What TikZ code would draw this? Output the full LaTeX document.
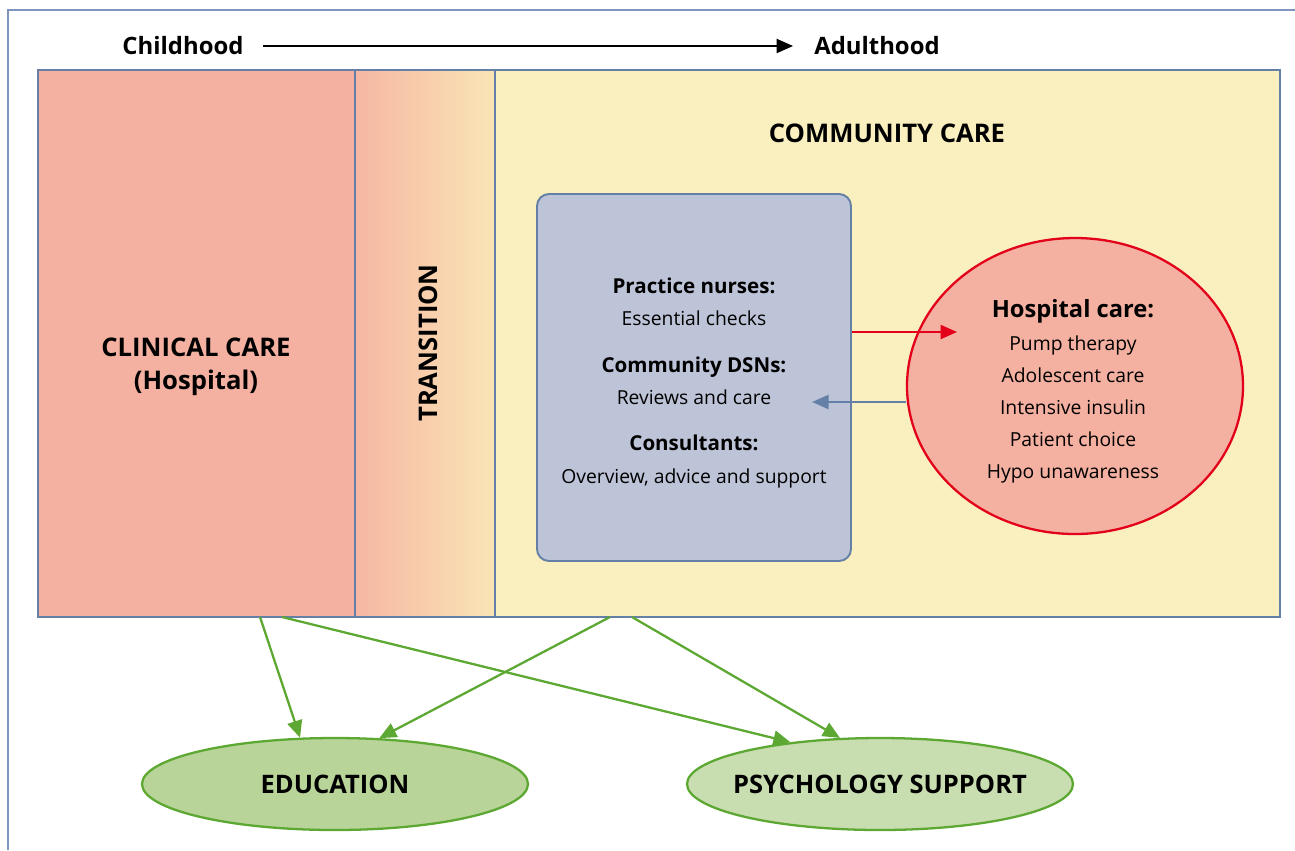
\documentclass[tikz,border=0pt]{standalone}
\usepackage{fontspec}
\setmainfont{Open Sans}
\usepackage{tikz}
\usetikzlibrary{shapes.geometric, arrows.meta, positioning, calc}

\definecolor{frameblue}{HTML}{7F95BF}
\definecolor{edgeblue}{HTML}{6580A6}
\definecolor{clinicalpink}{HTML}{F4B0A0}
\definecolor{transpink}{HTML}{F6B7A2}
\definecolor{transyellow}{HTML}{F9E5B6}
\definecolor{communityyellow}{HTML}{FAF0BF}
\definecolor{teamgrey}{HTML}{BEC4D8}
\definecolor{hospred}{HTML}{E2001A}
\definecolor{linkgreen}{HTML}{5DA832}
\definecolor{edugreen}{HTML}{B8D498}
\definecolor{psygreen}{HTML}{C8DDB0}

\begin{document}
\begin{tikzpicture}[
    x=0.02cm, y=-0.02cm,
    region/.style={draw=edgeblue, line width=1.1pt, inner sep=0pt},
    heading/.style={font=\bfseries\fontsize{14.6}{18.7}\selectfont},
    item/.style={font=\fontsize{11}{13}\selectfont, text height=1.6ex, text depth=.3ex},
    itembold/.style={font=\bfseries\fontsize{11.7}{14}\selectfont, text height=1.6ex, text depth=.3ex},
    outcome/.style={ellipse, draw=linkgreen, line width=1.3pt, minimum width=386*0.02cm, minimum height=92*0.02cm},
    outcometxt/.style={font=\bfseries\fontsize{14.5}{17}\selectfont},
    arrow/.style={-{Triangle[length=3.3mm, width=2.8mm]}, line width=1pt},
    greenarrow/.style={arrow, draw=linkgreen, -{Triangle[length=3.4mm, width=3mm]}, color=linkgreen, line width=1.3pt}
]
\useasboundingbox (0,0) rectangle (1295,850);

% Page frame
\draw[frameblue, line width=0.8pt] (8,850) -- (8,10) -- (1295,10);

% Timeline
\node[font=\bfseries\fontsize{13.6}{16}\selectfont] (child) at (183,46) {Childhood};
\node[font=\bfseries\fontsize{13.6}{16}\selectfont] (adult) at (877,46) {Adulthood};
\draw[arrow, line width=1.2pt] (child.east) ++(13,0) coordinate (tstart) -- ($(adult.west)+(-15,0)$) coordinate (tend);

% Care regions
\node[region, fill=clinicalpink, minimum width=317*0.02cm, minimum height=547*0.02cm] (clinical) at (196.5,343.5) {};
\shade[left color=transpink, right color=transyellow] (355,70) rectangle (495,617);
\node[region, minimum width=140*0.02cm, minimum height=547*0.02cm] (transition) at (425,343.5) {};
\node[region, fill=communityyellow, minimum width=785*0.02cm, minimum height=547*0.02cm] (community) at (887.5,343.5) {};

\node[heading, align=center] (clinicaltxt) at (196,367) {CLINICAL CARE\\(Hospital)};
\node[heading, rotate=90] (transtxt) at (428,343) {TRANSITION};
\node[heading] (communitytxt) at (887,133) {COMMUNITY CARE};

% Community team
\node[draw=edgeblue, line width=1.1pt, fill=teamgrey, rounded corners=12*0.02cm,
      minimum width=314*0.02cm, minimum height=367*0.02cm] (team) at (694,377.5) {};
\node[itembold] (nurses) at (694,287) {Practice nurses:};
\node[item] (checks) at (694,319) {Essential checks};
\node[itembold] (dsn) at (694,366) {Community DSNs:};
\node[item] (reviews) at (694,398) {Reviews and care};
\node[itembold] (consult) at (694,444) {Consultants:};
\node[item] (overview) at (694,477) {Overview, advice and support};

% Hospital care
\node[ellipse, draw=hospred, line width=1.3pt, fill=clinicalpink,
      minimum width=336*0.02cm, minimum height=296*0.02cm] (hospital) at (1075,386) {};
\node[font=\bfseries\fontsize{13.5}{16}\selectfont, text height=1.6ex, text depth=.3ex] (hosptxt) at (1073,311) {Hospital care:};
\foreach \y/\t in {344/Pump therapy, 376/Adolescent care, 408/Intensive insulin, 440/Patient choice, 472/Hypo unawareness}
    \node[item] at (1073,\y) {\t};

\coordinate (referin) at (957,332);
\coordinate (referback) at (812,402);
\draw[arrow, hospred, line width=1.2pt] (team.east |- referin) -- (referin);
\draw[arrow, edgeblue, line width=1.2pt] (hospital.west |- referback) -- (referback);

% Support services
\node[outcome, fill=edugreen, label={[outcometxt]center:EDUCATION}] (education) at (335,784) {};
\node[outcome, fill=psygreen, label={[outcometxt]center:PSYCHOLOGY SUPPORT}] (psychology) at (880,784) {};

\coordinate (clinA) at (260,617);
\coordinate (clinB) at (282,617);
\coordinate (commA) at (610,617);
\coordinate (commB) at (632,617);
\draw[greenarrow] (clinA) -- (education.127);
\draw[greenarrow] (clinB) -- (psychology.155);
\draw[greenarrow] (commA) -- (education.46);
\draw[greenarrow] (commB) -- (psychology.131);

\end{tikzpicture}
\end{document}
